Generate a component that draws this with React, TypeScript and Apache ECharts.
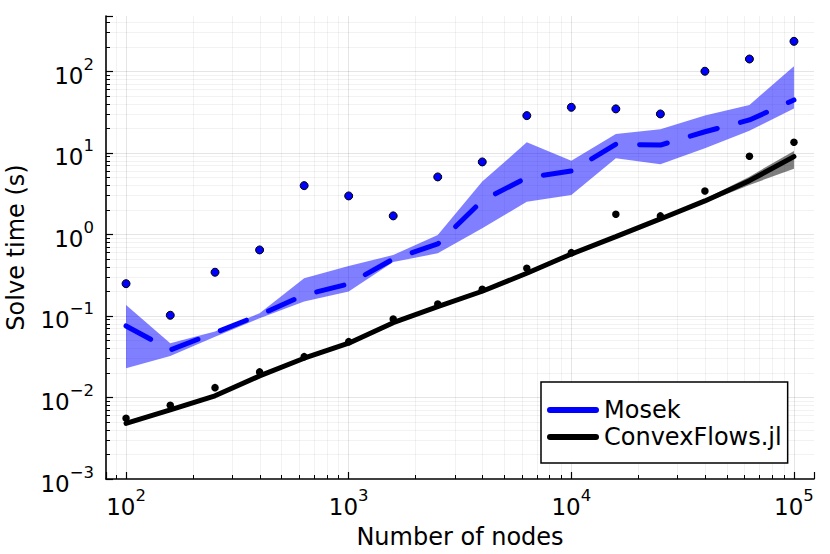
import React, { useEffect, useRef } from "react";
import * as echarts from "echarts";

const nodes = [100, 158, 251, 398, 631, 1000, 1585, 2512, 3981, 6310, 10000, 15849, 25119, 39811, 63096, 100000];

const mosekMean = [0.0754, 0.0383, 0.0624, 0.103, 0.181, 0.247, 0.5, 0.764, 2.6, 4.98, 6.0, 12.8, 12.5, 18.2, 25.4, 44.7];
const mosekLo = [0.0228, 0.0323, 0.0557, 0.0937, 0.15, 0.2, 0.46, 0.587, 1.19, 2.52, 3.05, 8.6, 7.26, 11.4, 18.7, 35];
const mosekHi = [0.136, 0.0462, 0.0643, 0.108, 0.29, 0.41, 0.56, 0.986, 4.45, 13.5, 8.0, 17.1, 19.5, 28.7, 38.8, 116];
const mosekMax = [0.249, 0.102, 0.344, 0.646, 3.97, 2.97, 1.69, 5.08, 7.76, 28.7, 36.3, 34.7, 30.1, 100.5, 142, 234];

const cfMean = [0.00482, 0.00703, 0.0105, 0.0184, 0.0303, 0.0463, 0.0828, 0.13, 0.201, 0.334, 0.575, 0.94, 1.55, 2.58, 4.57, 9.02];
const cfLo = [0.0046, 0.0067, 0.01, 0.0175, 0.0288, 0.044, 0.0787, 0.124, 0.191, 0.317, 0.546, 0.89, 1.47, 2.45, 4.05, 6.4];
const cfHi = [0.0051, 0.0074, 0.011, 0.0193, 0.0318, 0.0486, 0.0869, 0.137, 0.211, 0.351, 0.604, 0.99, 1.63, 2.72, 5.12, 10.6];
const cfMax = [0.00556, 0.00802, 0.0132, 0.0206, 0.0317, 0.0484, 0.0918, 0.14, 0.212, 0.385, 0.598, 1.77, 1.69, 3.42, 9.12, 13.5];

const xTitle = "Number of nodes";
const yTitle = "Solve time (s)";
const seriesNames = ["Mosek", "ConvexFlows.jl"];

const FONT = "DejaVu Sans";

function powLabel(v: number): string {
  const e = Math.log10(v);
  const r = Math.round(e);
  if (Math.abs(e - r) > 1e-6) return "";
  const exp = r < 0 ? "\u2212" + String(-r) : String(r);
  return `{b|10}{s|${exp}}`;
}

const rich = {
  b: { fontSize: 23, fontFamily: FONT, color: "#000", lineHeight: 40 },
  s: { fontSize: 16.5, fontFamily: FONT, color: "#000", lineHeight: 16, verticalAlign: "top" },
};

function bandSeries(name: string, lo: number[], hi: number[], fill: string) {
  return {
    type: "custom",
    name,
    silent: true,
    clip: true,
    data: nodes.map((x, i) => [x, lo[i], hi[i]]),
    encode: { x: 0, y: [1, 2] },
    renderItem: (params: any, api: any) => {
      if (params.dataIndex !== 0) return { type: "group", children: [] };
      const top = nodes.map((x, i) => api.coord([x, hi[i]]));
      const bot = nodes.map((x, i) => api.coord([x, lo[i]])).reverse();
      return {
        type: "polygon",
        shape: { points: top.concat(bot) },
        style: { fill },
      };
    },
  };
}

const capsule = "path://M3 0H49A3 3 0 0 1 49 6H3A3 3 0 0 1 3 0Z";

export default function App() {
  const ref = useRef<HTMLDivElement>(null);
  useEffect(() => {
    if (!ref.current) return;
    const chart = echarts.init(ref.current, null, { renderer: "svg" });
    const axisCommon = {
      type: "log",
      logBase: 10,
      axisLine: { show: true, onZero: false, lineStyle: { color: "#000", width: 1.6 } },
      axisTick: { show: true, inside: true, length: 7, lineStyle: { color: "#000", width: 1.2 } },
      minorTick: { show: true, splitNumber: 9, length: 4, lineStyle: { color: "#000", width: 1 } },
      splitLine: { show: true, showMinLine: false, showMaxLine: false, lineStyle: { color: "rgba(0,0,0,0.1)", width: 1 } },
      minorSplitLine: { show: true, lineStyle: { color: "rgba(0,0,0,0.05)", width: 1 } },
      nameLocation: "middle",
      nameTextStyle: { fontFamily: FONT, fontSize: 24, color: "#000" },
    };
    chart.setOption({
      animation: false,
      backgroundColor: "#fff",
      textStyle: { fontFamily: FONT },
      grid: { left: 106, right: 16, top: 16, bottom: 75, containLabel: false, outerBoundsMode: "none" },
      xAxis: {
        ...axisCommon,
        min: Math.pow(10, 1.91),
        max: Math.pow(10, 5.09),
        name: xTitle,
        nameGap: 46,
        axisLabel: { margin: 8, formatter: powLabel, rich, showMinLabel: true, showMaxLabel: true },
      },
      yAxis: {
        ...axisCommon,
        min: 0.001,
        max: Math.pow(10, 2.68),
        name: yTitle,
        nameGap: 78,
        axisLabel: { margin: 12, formatter: powLabel, rich, padding: [9, 0, 0, 0] },
      },
      legend: {
        orient: "vertical",
        left: 541,
        top: 382,
        padding: [16, 6, 14, 6],
        itemGap: 3,
        itemWidth: 52,
        itemHeight: 6,
        borderColor: "#000",
        borderWidth: 1.5,
        backgroundColor: "#fff",
        selectedMode: false,
        textStyle: { fontFamily: FONT, fontSize: 24, color: "#000", lineHeight: 24 },
        data: [
          { name: seriesNames[0], icon: capsule, itemStyle: { color: "#0000ff", borderWidth: 0 } },
          { name: seriesNames[1], icon: capsule, itemStyle: { color: "#000000", borderWidth: 0 } },
        ],
      },
      series: [
        bandSeries("Mosek range", mosekLo, mosekHi, "rgba(0,0,255,0.5)"),
        {
          type: "line",
          name: seriesNames[0],
          silent: true,
          symbol: "none",
          color: "#0000ff",
          data: nodes.map((x, i) => [x, mosekMean[i]]),
          lineStyle: { color: "#0000ff", width: 5, type: [28, 24], cap: "round" },
        },
        bandSeries("ConvexFlows range", cfLo, cfHi, "rgba(0,0,0,0.5)"),
        {
          type: "line",
          name: seriesNames[1],
          silent: true,
          symbol: "none",
          color: "#000000",
          data: nodes.map((x, i) => [x, cfMean[i]]),
          lineStyle: { color: "#000000", width: 5, cap: "round" },
        },
        {
          type: "scatter",
          name: "Mosek max",
          silent: true,
          symbolSize: 8,
          data: nodes.map((x, i) => [x, mosekMax[i]]),
          itemStyle: { color: "#0000ff", borderColor: "#000", borderWidth: 1, opacity: 1 },
        },
        {
          type: "scatter",
          name: "ConvexFlows max",
          silent: true,
          symbolSize: 7.5,
          data: nodes.map((x, i) => [x, cfMax[i]]),
          itemStyle: { color: "#000", opacity: 1 },
        },
      ],
    });
    return () => chart.dispose();
  }, []);
  return (
    <div
      ref={ref}
      style={{ position: "fixed", left: 0, top: 0, width: 830, height: 554, background: "#fff" }}
    />
  );
}
